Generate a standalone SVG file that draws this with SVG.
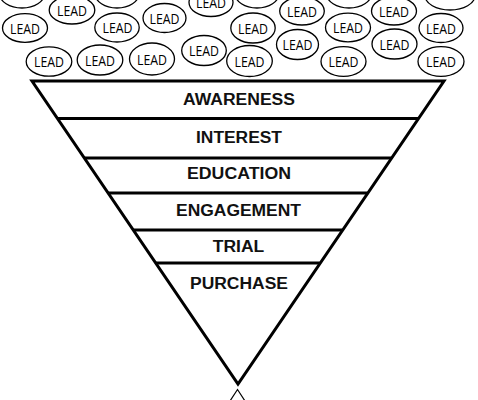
<svg xmlns="http://www.w3.org/2000/svg" width="478" height="400" viewBox="0 0 478 400">
<style>
.lead ellipse{fill:#fff;stroke:#000;stroke-width:1.3}
.lead text{font-family:"Open Sans","Liberation Sans",sans-serif;font-size:15px;fill:#000;text-anchor:middle}
.stage line{stroke:#000;stroke-width:3}
.stage text{font-family:"Liberation Sans",Arial,sans-serif;font-weight:bold;font-size:15.8px;fill:#111;text-anchor:middle}
</style>
<rect width="478" height="400" fill="#fff"/>
<g id="leads">
<g id="lead-a" class="lead"><ellipse cx="22" cy="-6.5" rx="22.5" ry="14.5"/></g>
<g id="lead-d" class="lead"><ellipse cx="117" cy="-6.5" rx="22" ry="14.5"/></g>
<g id="lead-l" class="lead"><ellipse cx="257" cy="-6.5" rx="22" ry="14.5"/></g>
<g id="lead-s" class="lead"><ellipse cx="349" cy="-6.5" rx="22.5" ry="14.5"/></g>
<g id="lead-x" class="lead"><ellipse cx="450" cy="-4.5" rx="25" ry="14.5"/></g>
<g id="lead-b" class="lead"><ellipse cx="72" cy="10" rx="22.8" ry="14"/><text x="72" y="16.2" textLength="30" lengthAdjust="spacingAndGlyphs">LEAD</text></g>
<g id="lead-k" class="lead"><ellipse cx="211" cy="2.5" rx="22" ry="14"/><text x="211" y="8.2" textLength="30" lengthAdjust="spacingAndGlyphs">LEAD</text></g>
<g id="lead-o" class="lead"><ellipse cx="302" cy="11" rx="22.3" ry="14"/><text x="302" y="16.7" textLength="30" lengthAdjust="spacingAndGlyphs">LEAD</text></g>
<g id="lead-t" class="lead"><ellipse cx="394" cy="11" rx="22.5" ry="14"/><text x="394" y="16.7" textLength="30" lengthAdjust="spacingAndGlyphs">LEAD</text></g>
<g id="lead-f" class="lead"><ellipse cx="164.5" cy="18" rx="21.5" ry="14.5"/><text x="164.5" y="23.7" textLength="30" lengthAdjust="spacingAndGlyphs">LEAD</text></g>
<g id="lead-c" class="lead"><ellipse cx="25" cy="28" rx="22.5" ry="14.3"/><text x="25" y="33.7" textLength="30" lengthAdjust="spacingAndGlyphs">LEAD</text></g>
<g id="lead-e" class="lead"><ellipse cx="117" cy="27.5" rx="22.2" ry="14.5"/><text x="117.5" y="33.2" textLength="30" lengthAdjust="spacingAndGlyphs">LEAD</text></g>
<g id="lead-m" class="lead"><ellipse cx="253" cy="28" rx="22.2" ry="15"/><text x="253" y="33.7" textLength="30" lengthAdjust="spacingAndGlyphs">LEAD</text></g>
<g id="lead-r" class="lead"><ellipse cx="348" cy="27.5" rx="22.5" ry="14.3"/><text x="348" y="33.2" textLength="30" lengthAdjust="spacingAndGlyphs">LEAD</text></g>
<g id="lead-v" class="lead"><ellipse cx="441" cy="28" rx="22" ry="14.5"/><text x="441" y="33.7" textLength="30" lengthAdjust="spacingAndGlyphs">LEAD</text></g>
<g id="lead-j" class="lead"><ellipse cx="204" cy="50.5" rx="22.3" ry="15"/><text x="204" y="56.2" textLength="30" lengthAdjust="spacingAndGlyphs">LEAD</text></g>
<g id="lead-p" class="lead"><ellipse cx="297.5" cy="44.5" rx="21" ry="15"/><text x="297.5" y="50.2" textLength="30" lengthAdjust="spacingAndGlyphs">LEAD</text></g>
<g id="lead-u" class="lead"><ellipse cx="394.5" cy="44" rx="22.5" ry="15"/><text x="394.5" y="49.7" textLength="30" lengthAdjust="spacingAndGlyphs">LEAD</text></g>
<g id="lead-g" class="lead"><ellipse cx="49" cy="61.5" rx="22.8" ry="14.7"/><text x="49" y="67.2" textLength="30" lengthAdjust="spacingAndGlyphs">LEAD</text></g>
<g id="lead-h" class="lead"><ellipse cx="100" cy="60" rx="22.8" ry="15"/><text x="100" y="65.7" textLength="30" lengthAdjust="spacingAndGlyphs">LEAD</text></g>
<g id="lead-i" class="lead"><ellipse cx="152" cy="59" rx="22.5" ry="16"/><text x="152" y="64.7" textLength="30" lengthAdjust="spacingAndGlyphs">LEAD</text></g>
<g id="lead-n" class="lead"><ellipse cx="249.5" cy="61" rx="22.8" ry="15.5"/><text x="249.5" y="66.7" textLength="30" lengthAdjust="spacingAndGlyphs">LEAD</text></g>
<g id="lead-q" class="lead"><ellipse cx="343.5" cy="61.5" rx="22.5" ry="14.8"/><text x="343.5" y="67.2" textLength="30" lengthAdjust="spacingAndGlyphs">LEAD</text></g>
<g id="lead-w" class="lead"><ellipse cx="441" cy="61.5" rx="23" ry="14.8"/><text x="441" y="67.2" textLength="30" lengthAdjust="spacingAndGlyphs">LEAD</text></g>
</g>
<g id="funnel">
<polygon points="32,81 444,81 238,384" fill="#fff" stroke="#000" stroke-width="3" stroke-linejoin="miter"/>
</g>
<g id="stages" class="stage">
<g id="awareness"><text x="239" y="104.5" textLength="112" lengthAdjust="spacingAndGlyphs">AWARENESS</text></g>
<line x1="57.2" y1="118.5" x2="418.7" y2="118.5"/>
<g id="interest"><text x="239" y="142.5" textLength="86" lengthAdjust="spacingAndGlyphs">INTEREST</text></g>
<line x1="84.4" y1="158" x2="391.4" y2="158"/>
<g id="education"><text x="239" y="179" textLength="104" lengthAdjust="spacingAndGlyphs">EDUCATION</text></g>
<line x1="108.2" y1="193" x2="367.5" y2="193"/>
<g id="engagement"><text x="238.5" y="216" textLength="125" lengthAdjust="spacingAndGlyphs">ENGAGEMENT</text></g>
<line x1="133.3" y1="230" x2="342.2" y2="230"/>
<g id="trial"><text x="238.5" y="252.3" textLength="51.6" lengthAdjust="spacingAndGlyphs">TRIAL</text></g>
<line x1="155.8" y1="263" x2="319.7" y2="263"/>
<g id="purchase"><text x="239" y="289.3" textLength="98" lengthAdjust="spacingAndGlyphs">PURCHASE</text></g>
</g>
<g id="connectors">
<polyline points="230,401 237.5,389.5 245,401" fill="none" stroke="#000" stroke-width="1.2"/>
</g>
</svg>
